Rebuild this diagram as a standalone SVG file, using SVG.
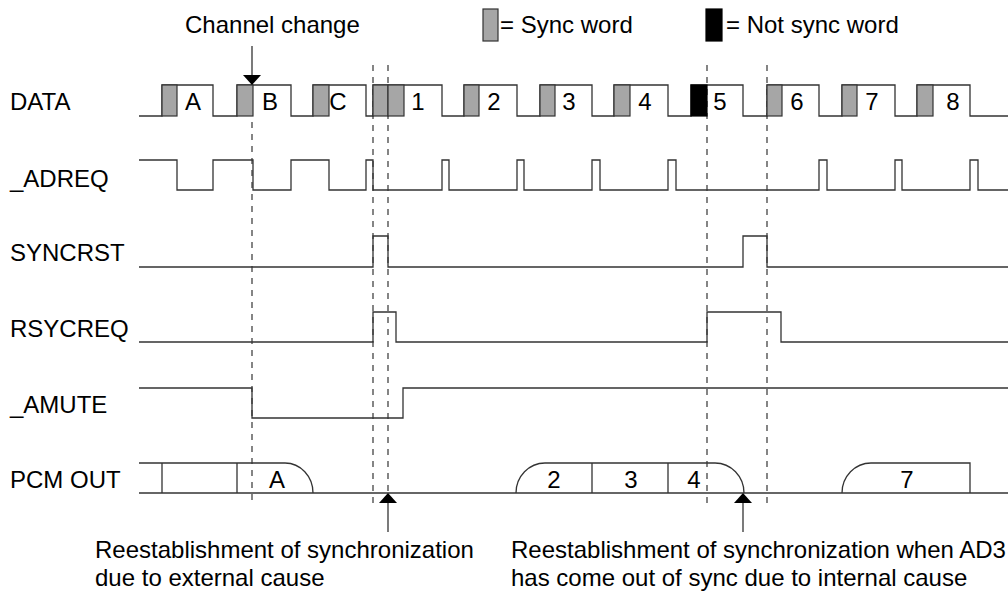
<svg xmlns="http://www.w3.org/2000/svg" width="1008" height="594" viewBox="0 0 1008 594">
<style>
text{font-family:"Liberation Sans",Arial,sans-serif;font-size:24px;fill:#000}
.c{text-anchor:middle}
.sig{fill:none;stroke:#333;stroke-width:1.3}
.dash{fill:none;stroke:#444;stroke-width:1.3;stroke-dasharray:6,6}
.sw{fill:#a6a6a6;stroke:#333;stroke-width:1.2}
.nsw{fill:#000;stroke:#000;stroke-width:1.2}
.ar{fill:#000;stroke:none}
.ln{stroke:#333;stroke-width:1.3;fill:none}
</style>
<rect width="1008" height="594" fill="#fff"/>
<g id="legend">
<text x="185" y="33">Channel change</text>
<rect class="sw" x="483" y="9" width="15" height="32"/>
<text x="500" y="33">= Sync word</text>
<rect class="nsw" x="706" y="9" width="16" height="32"/>
<text x="726" y="33">= Not sync word</text>
</g>
<g id="labels">
<text x="10" y="110">DATA</text>
<text x="10" y="187">_ADREQ</text>
<text x="10" y="261">SYNCRST</text>
<text x="10" y="337">RSYCREQ</text>
<text x="10" y="413">_AMUTE</text>
<text x="10" y="488">PCM OUT</text>
</g>
<g id="guides">
<line class="dash" x1="252" y1="86" x2="252" y2="506"/>
<line class="dash" x1="373" y1="65" x2="373" y2="506"/>
<line class="dash" x1="388" y1="65" x2="388" y2="493"/>
<line class="dash" x1="707" y1="65" x2="707" y2="506"/>
<line class="dash" x1="767" y1="65" x2="767" y2="506"/>
</g>
<g id="data">
<path class="sig" d="M139,116 H162 V85 H213 V116 H237 V85 H291 V116 H313 V85 H366 V116 H373 V85 H442 V116 H464 V85 H517 V116 H540 V85 H592 V116 H614 V85 H668 V116 H691 V85 H743 V116 H767 V85 H819 V116 H842 V85 H895 V116 H917 V85 H970 V116 H1008"/>
<rect class="sw" x="162" y="85" width="15" height="31"/>
<rect class="sw" x="237" y="85" width="16" height="31"/>
<rect class="sw" x="313" y="85" width="16" height="31"/>
<rect class="sw" x="373" y="85" width="15" height="31"/>
<rect class="sw" x="388" y="85" width="16" height="31"/>
<rect class="sw" x="464" y="85" width="15" height="31"/>
<rect class="sw" x="540" y="85" width="15" height="31"/>
<rect class="sw" x="614" y="85" width="16" height="31"/>
<rect class="nsw" x="691" y="85" width="16" height="31"/>
<rect class="sw" x="767" y="85" width="15" height="31"/>
<rect class="sw" x="842" y="85" width="15" height="31"/>
<rect class="sw" x="917" y="85" width="16" height="31"/>
<text class="c" x="193" y="110">A</text>
<text class="c" x="270" y="110">B</text>
<text class="c" x="338" y="110">C</text>
<text class="c" x="418" y="110">1</text>
<text class="c" x="494" y="110">2</text>
<text class="c" x="569" y="110">3</text>
<text class="c" x="645" y="110">4</text>
<text class="c" x="720" y="110">5</text>
<text class="c" x="797" y="110">6</text>
<text class="c" x="872" y="110">7</text>
<text class="c" x="953" y="110">8</text>
</g>
<g id="adreq">
<path class="sig" d="M139,160 H177 V190 H213 V160 H253 V190 H291 V160 H329 V190 H366 V160 H373 V190 H442 V160 H449 V190 H517 V160 H524 V190 H592 V160 H600 V190 H668 V160 H676 V190 H819 V160 H827 V190 H895 V160 H902 V190 H970 V160 H978 V190 H1008"/>
</g>
<g id="syncrst">
<path class="sig" d="M139,267 H373 V236 H388 V267 H743 V236 H767 V267 H1008"/>
</g>
<g id="rsycreq">
<path class="sig" d="M139,342 H373 V312 H396 V342 H707 V312 H781 V342 H1008"/>
</g>
<g id="amute">
<path class="sig" d="M139,388 H252 V418 H403 V388 H1008"/>
</g>
<g id="pcm">
<path class="sig" d="M139,493 H1008"/>
<path class="sig" d="M139,463 H285 A28,30 0 0 1 313,493"/>
<path class="sig" d="M162,463 V493 M237,463 V493"/>
<path class="sig" d="M516,493 A29,30 0 0 1 545,463 H715 A29,30 0 0 1 744,493"/>
<path class="sig" d="M592,463 V493 M668,463 V493"/>
<path class="sig" d="M842,493 A29,30 0 0 1 871,463 H970 V493"/>
<text class="c" x="277" y="488">A</text>
<text class="c" x="554" y="488">2</text>
<text class="c" x="631" y="488">3</text>
<text class="c" x="694" y="488">4</text>
<text class="c" x="907" y="488">7</text>
</g>
<g id="connectors">
<line class="ln" x1="252" y1="46" x2="252" y2="77"/>
<polygon class="ar" points="243,75 261,75 252,85"/>
<polygon class="ar" points="379,503 397,503 388,493"/>
<line class="ln" x1="388" y1="503" x2="388" y2="532"/>
<polygon class="ar" points="734,503 752,503 743,493"/>
<line class="ln" x1="743" y1="503" x2="743" y2="532"/>
</g>
<g id="notes">
<text x="95" y="558">Reestablishment of synchronization</text>
<text x="95" y="586">due to external cause</text>
<text x="511" y="558">Reestablishment of synchronization when AD3</text>
<text x="511" y="586">has come out of sync due to internal cause</text>
</g>
</svg>
